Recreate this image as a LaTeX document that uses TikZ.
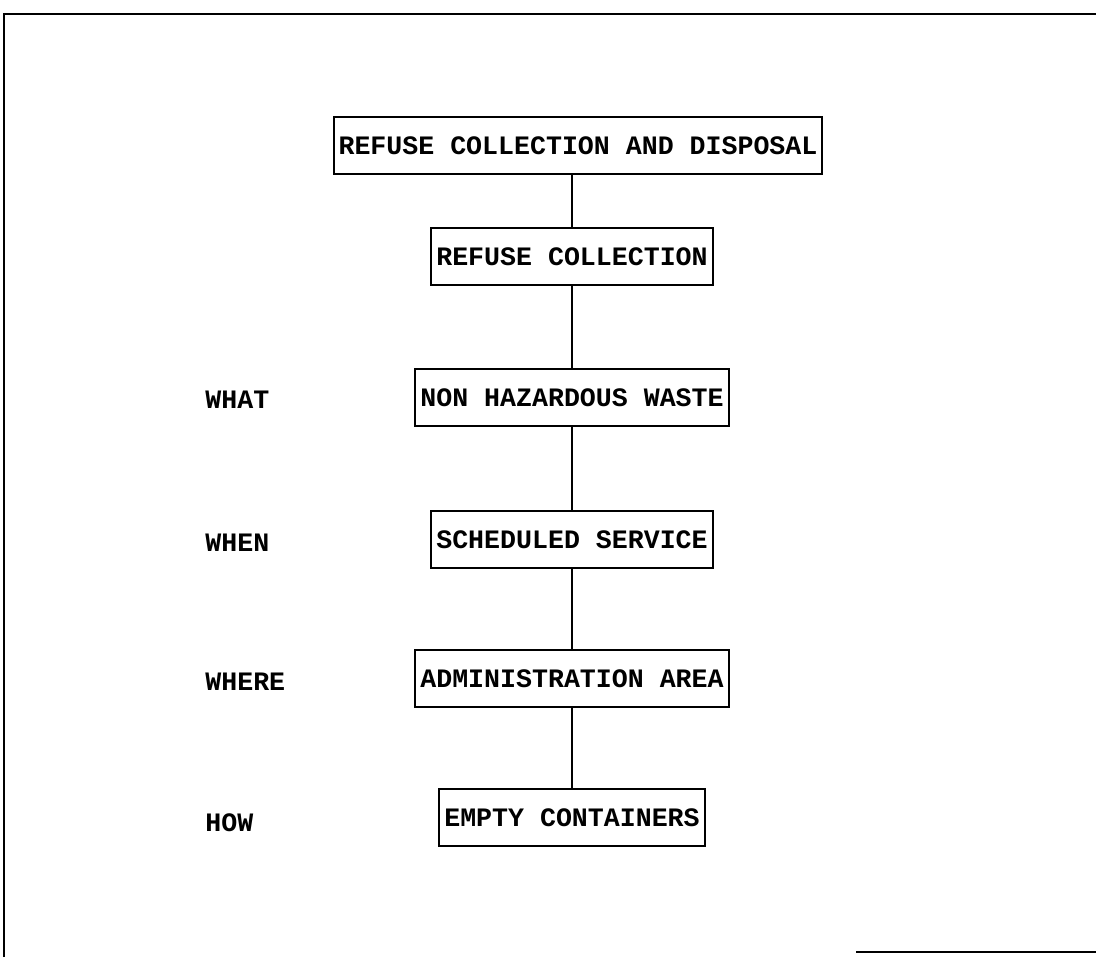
\documentclass[tikz,border=0pt]{standalone}
\usepackage{fontspec}
\setmonofont{Liberation Mono}
\begin{document}
\begin{tikzpicture}[x=0.5pt, y=-0.5pt,
            box/.style={draw, line width=1pt, font=\ttfamily\bfseries\fontsize{13.3}{16}\selectfont,
                inner xsep=2.5pt, inner ysep=0pt, minimum height=28.5pt, text height=9pt, text depth=0pt},
            tag/.style={anchor=west, inner sep=0pt, font=\ttfamily\bfseries\fontsize{13.3}{16}\selectfont,
                text height=9pt, text depth=0pt},
            link/.style={line width=1pt},
            frame/.style={line width=1.2pt}]
            \useasboundingbox (0,0) rectangle (1096,957);
            % frame of the scanned page
            \draw[frame] (4,957) -- (4,14) -- (1096,14);
            \draw[frame] (856,952) -- (1096,952);
            % chain of boxes
            \node[box] (disposal) at (578,145.5) {REFUSE COLLECTION AND DISPOSAL};
            \node[box] (collection) at (572,256) {REFUSE COLLECTION};
            \node[box] (waste) at (572,397.5) {NON HAZARDOUS WASTE};
            \node[box] (service) at (572,539) {SCHEDULED SERVICE};
            \node[box] (area) at (572,678.5) {ADMINISTRATION AREA};
            \node[box] (containers) at (572,817.5) {EMPTY CONTAINERS};
            % questions on the left
            \node[tag] (what) at (205,399) {WHAT};
            \node[tag] (when) at (205,542) {WHEN};
            \node[tag] (where) at (205,681) {WHERE};
            \node[tag] (how) at (205,822) {HOW};
            \draw[link] (collection.north) -- (collection.north |- disposal.south);
            \draw[link] (collection) -- (waste);
            \draw[link] (waste) -- (service);
            \draw[link] (service) -- (area);
            \draw[link] (area) -- (containers);
        \end{tikzpicture}
\end{document}
